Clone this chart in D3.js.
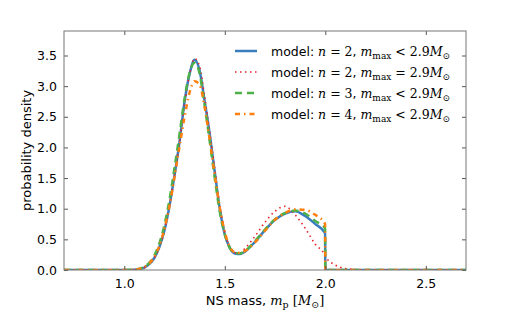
<!DOCTYPE html>
<html>
<head>
<meta charset="utf-8">
<script src="https://cdn.jsdelivr.net/npm/d3@7"></script>
<style>
  body { margin: 0; background: #fff; }
  svg { font-family: 'DejaVu Sans', sans-serif; }
  .math { font-family: 'DejaVu Serif', serif; font-style: italic; }
  .rm { font-family: 'DejaVu Serif', serif; font-style: normal; }
</style>
</head>
<body>
<div id="chart"></div>
<script>
// NS mass grid (shared by all series)
const massGrid = [0.7, 1.0, 1.05, 1.1, 1.125, 1.15, 1.175, 1.2, 1.225, 1.25, 1.275, 1.3, 1.325, 1.35, 1.375,
  1.4, 1.425, 1.45, 1.475, 1.5, 1.525, 1.55, 1.575, 1.6, 1.65, 1.7, 1.75, 1.8, 1.85, 1.9, 1.95, 1.999, 2.0,
  2.05, 2.1, 2.15, 2.2, 2.7]

const n2Cut = [0, 0, 0.005, 0.04, 0.1, 0.2, 0.38, 0.65, 1.05, 1.55, 2.1, 2.75, 3.2, 3.43, 3.25,
  2.75, 2.22, 1.6, 1.0, 0.58, 0.36, 0.27, 0.26, 0.3, 0.46, 0.65, 0.82, 0.92, 0.96, 0.88, 0.75, 0.6, 0,
  0, 0, 0, 0, 0]
const n2Eq = [0, 0, 0.005, 0.04, 0.1, 0.2, 0.38, 0.65, 1.05, 1.55, 2.1, 2.72, 3.2, 3.45, 3.32,
  2.82, 2.25, 1.65, 1.05, 0.62, 0.38, 0.28, 0.28, 0.35, 0.55, 0.78, 0.96, 1.04, 0.9, 0.68, 0.42, 0.23, 0.22,
  0.08, 0.025, 0.008, 0.002, 0]
const n3Cut = [0, 0, 0.006, 0.05, 0.12, 0.24, 0.44, 0.74, 1.15, 1.67, 2.22, 2.8, 3.22, 3.38, 3.2,
  2.68, 2.1, 1.5, 0.95, 0.58, 0.36, 0.28, 0.27, 0.31, 0.47, 0.66, 0.83, 0.93, 0.97, 0.92, 0.8, 0.68, 0,
  0, 0, 0, 0, 0]
const n4Cut = [0, 0, 0.006, 0.05, 0.11, 0.22, 0.4, 0.68, 1.05, 1.52, 2.02, 2.5, 2.9, 3.08, 3.02,
  2.65, 2.12, 1.55, 1.02, 0.62, 0.38, 0.29, 0.28, 0.31, 0.45, 0.64, 0.82, 0.93, 0.99, 0.98, 0.9, 0.75, 0,
  0, 0, 0, 0, 0]

const xTicks = [1.0, 1.5, 2.0, 2.5]
const yTicks = [0.0, 0.5, 1.0, 1.5, 2.0, 2.5, 3.0, 3.5]

const series = [
  { values: n2Cut, n: 2, op: '<', color: '#3a7dbf', width: 2.5, dash: null },
  { values: n2Eq, n: 2, op: '=', color: '#e8222a', width: 1.6, dash: '1.5,3.5' },
  { values: n3Cut, n: 3, op: '<', color: '#4eb048', width: 2.5, dash: '7,5' },
  { values: n4Cut, n: 4, op: '<', color: '#ff7f0e', width: 2.5, dash: '5,4,1.5,4' }
]

const W = 517
const H = 310
const margin = { top: 31, right: 51, bottom: 40, left: 64 }
const width = W - margin.left - margin.right
const height = H - margin.top - margin.bottom

const svg = d3.select('#chart').append('svg')
  .attr('width', W)
  .attr('height', H)
const g = svg.append('g')
  .attr('transform', `translate(${margin.left},${margin.top})`)

const x = d3.scaleLinear().domain([0.7, 2.7]).range([0, width])
const y = d3.scaleLinear().domain([0, 3.9]).range([height, 0])

// Clip lines to the axes box
g.append('clipPath').attr('id', 'clip')
  .append('rect').attr('width', width).attr('height', height)

const line = d3.line()
  .x((d, i) => x(massGrid[i]))
  .y(d => y(d))
  .curve(d3.curveMonotoneX)

g.append('g').attr('clip-path', 'url(#clip)')
  .selectAll('path')
  .data(series)
  .enter().append('path')
  .attr('d', d => line(d.values))
  .attr('fill', 'none')
  .attr('stroke', d => d.color)
  .attr('stroke-width', d => d.width)
  .attr('stroke-dasharray', d => d.dash)

// Axes: ticks inside, on all four sides
const tickLen = 4
const axisStyle = sel => {
  sel.select('.domain').remove()
  sel.selectAll('.tick line').attr('stroke', '#555')
  sel.selectAll('.tick text').attr('fill', '#000').style('font-size', '12.5px')
    .style('font-family', "'DejaVu Sans', sans-serif")
}
g.append('g').attr('transform', `translate(0,${height})`)
  .call(d3.axisBottom(x).tickValues(xTicks).tickFormat(d3.format('.1f')).tickSizeInner(-tickLen).tickSizeOuter(0).tickPadding(9))
  .call(axisStyle)
g.append('g')
  .call(d3.axisTop(x).tickValues(xTicks).tickFormat('').tickSizeInner(-tickLen).tickSizeOuter(0))
  .call(axisStyle)
g.append('g')
  .call(d3.axisLeft(y).tickValues(yTicks).tickFormat(d3.format('.1f')).tickSizeInner(-tickLen).tickSizeOuter(0).tickPadding(7))
  .call(axisStyle)
g.append('g').attr('transform', `translate(${width},0)`)
  .call(d3.axisRight(y).tickValues(yTicks).tickFormat('').tickSizeInner(-tickLen).tickSizeOuter(0))
  .call(axisStyle)

// Frame
g.append('rect')
  .attr('width', width).attr('height', height)
  .attr('fill', 'none').attr('stroke', '#777').attr('stroke-width', 1)

// Axis labels
const xl = svg.append('text')
  .attr('x', margin.left + width / 2).attr('y', 305)
  .attr('text-anchor', 'middle').style('font-size', '13px')
xl.append('tspan').text('NS mass, ')
xl.append('tspan').attr('class', 'math').text('m')
xl.append('tspan').attr('class', 'rm').attr('dy', 3).style('font-size', '9.5px').text('p')
xl.append('tspan').attr('class', 'rm').attr('dy', -3).text(' [')
xl.append('tspan').attr('class', 'math').text('M')
xl.append('tspan').attr('class', 'rm').attr('dy', 3).style('font-size', '9.5px').text('⊙')
xl.append('tspan').attr('class', 'rm').attr('dy', -3).text(']')

svg.append('text')
  .attr('transform', `translate(31,${margin.top + height / 2}) rotate(-90)`)
  .attr('text-anchor', 'middle').style('font-size', '13px')
  .text('probability density')

// Legend (no frame)
const legend = svg.append('g').attr('transform', 'translate(235,51)')
series.forEach((s, i) => {
  const row = legend.append('g').attr('transform', `translate(0,${i * 21})`)
  row.append('line')
    .attr('x1', 0).attr('x2', 22).attr('y1', 0).attr('y2', 0)
    .attr('stroke', s.color).attr('stroke-width', s.width)
    .attr('stroke-dasharray', s.dash)
  const t = row.append('text').attr('x', 36).attr('y', 4.5).style('font-size', '12.5px')
  t.append('tspan').text('model: ')
  t.append('tspan').attr('class', 'math').text('n')
  t.append('tspan').attr('class', 'rm').text(` = ${s.n}`)
  t.append('tspan').text(', ')
  t.append('tspan').attr('class', 'math').text('m')
  t.append('tspan').attr('class', 'rm').attr('dy', 3).style('font-size', '9px').text('max')
  t.append('tspan').attr('class', 'rm').attr('dy', -3).text(` ${s.op} 2.9`)
  t.append('tspan').attr('class', 'math').text('M')
  t.append('tspan').attr('class', 'rm').attr('dy', 3).style('font-size', '9px').text('⊙')
})
</script>
</body>
</html>
